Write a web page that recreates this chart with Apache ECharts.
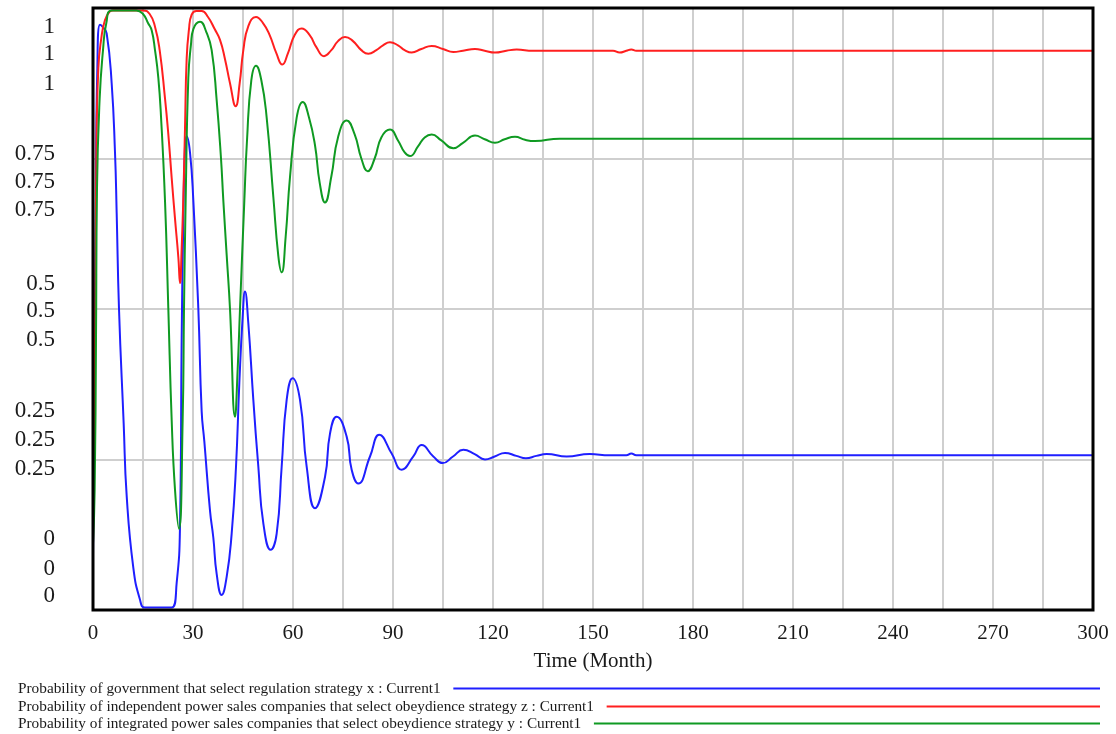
<!DOCTYPE html>
<html>
<head>
<meta charset="utf-8">
<script src="https://cdn.jsdelivr.net/npm/echarts@6/dist/echarts.min.js"></script>
<style>
html,body{margin:0;padding:0;background:#fff;}
#chart{width:1116px;height:734px;}
</style>
</head>
<body>
<div id="chart"></div>
<script>
// ---------------- data ----------------
const seriesNames = [
  'Probability of government that select regulation strategy x : Current1',
  'Probability of independent power sales companies that select obeydience strategy z : Current1',
  'Probability of integrated power sales companies that select obeydience strategy y : Current1'
];

// x : government (blue)
const xTime = [0,0.3,0.8,1.3,2.1,3,4.1,5.6,6.6,7.1,7.8,9.2,10.1,12.1,14.1,15.6,23.6,25.1,26.1,26.6,27.1,27.6,28.1,29.1,30.1,31.6,32.6,33.4,35.1,36.1,37.1,38.6,40.1,41.6,42.9,43.9,44.9,45.6,46.6,48.1,49.6,51.1,53.3,55.1,56.6,58.1,59.9,62.1,64.1,66.6,69.6,71.1,73.1,76.1,77.6,79.6,83.1,85.9,89.6,92.6,96.1,98.6,102.1,104.9,108,111.1,114.5,117.6,120.5,123.6,127,129.9,133,136.1,142.1,149,155,160,161.5,163,300];
const xValue = [0.09,0.3,0.65,0.9,0.972,0.968,0.958,0.875,0.76,0.66,0.5,0.31,0.19,0.07,0.017,0.004,0.004,0.045,0.14,0.45,0.65,0.77,0.787,0.76,0.68,0.5,0.33,0.28,0.165,0.12,0.06,0.025,0.055,0.127,0.238,0.377,0.487,0.529,0.476,0.349,0.238,0.144,0.1,0.127,0.238,0.349,0.385,0.349,0.238,0.169,0.221,0.293,0.321,0.288,0.233,0.21,0.255,0.291,0.26,0.233,0.255,0.274,0.255,0.244,0.255,0.266,0.259,0.25,0.255,0.261,0.256,0.252,0.256,0.259,0.255,0.259,0.257,0.257,0.26,0.257,0.257];

// z : independent companies (red)
const zTime = [0,0.5,1,1.6,2.5,3.6,5,6,15,17,18.6,20,21.6,22.6,23.6,24.6,25.6,26.1,26.6,27.1,27.6,28.1,28.8,29.6,31,32.6,34.5,36.5,38.1,39.6,41.1,42.8,44,45.1,46.6,48.9,51,53,55,56.8,58.5,60.5,62.6,65,67,69.3,71.5,73.5,75.6,78,80.5,82.6,85,87,89.1,91.5,93.5,95.6,98.5,101.6,105,108.1,111,114.6,117.5,120.6,124,127.1,132,140,152,156,158,160,161.5,163,300];
const zValue = [0.11,0.35,0.75,0.9,0.95,0.98,0.994,0.996,0.996,0.99,0.969,0.93,0.85,0.79,0.718,0.65,0.586,0.543,0.6,0.685,0.8,0.916,0.965,0.989,0.995,0.995,0.985,0.965,0.947,0.915,0.875,0.837,0.875,0.93,0.97,0.985,0.975,0.955,0.925,0.906,0.925,0.955,0.966,0.955,0.935,0.92,0.93,0.945,0.952,0.945,0.93,0.924,0.93,0.938,0.943,0.938,0.93,0.926,0.932,0.937,0.932,0.927,0.929,0.932,0.929,0.926,0.929,0.931,0.929,0.929,0.929,0.929,0.926,0.929,0.931,0.929,0.929];

// y : integrated companies (green)
const yTime = [0,0.5,0.9,1.2,2,3,4,5.6,13,15,16.5,17.6,18.6,19.6,20.4,21.6,22.6,23.6,24.6,25.8,26.9,27.3,27.8,28.6,29.4,30.1,32.1,34,35.6,37.1,38.4,39.1,40.1,41.1,42.6,43.4,44.1,45.4,46.2,47.5,48.9,50.5,52.1,54.1,55.6,56.6,57.8,59.1,61.1,62.9,64.8,66.6,68,69.6,71.5,73.5,76.1,78.5,80.5,82.4,84.5,86.5,89.1,91.5,93.5,95.1,97.5,99.5,101.6,104.5,108.1,111,114.6,117.5,120.6,123.5,126.6,129.6,132.6,140,300];
const yValue = [0.11,0.2,0.45,0.7,0.85,0.93,0.975,0.996,0.996,0.99,0.975,0.963,0.93,0.884,0.82,0.68,0.5,0.316,0.2,0.135,0.316,0.5,0.68,0.884,0.94,0.965,0.977,0.96,0.93,0.847,0.75,0.68,0.59,0.5,0.321,0.4,0.5,0.68,0.78,0.88,0.904,0.88,0.818,0.686,0.588,0.561,0.62,0.719,0.818,0.844,0.818,0.772,0.71,0.677,0.72,0.785,0.813,0.79,0.75,0.729,0.75,0.785,0.798,0.78,0.76,0.754,0.77,0.785,0.79,0.78,0.767,0.776,0.788,0.782,0.776,0.782,0.786,0.781,0.779,0.783,0.783];

// tick labels (as printed on the chart)
const yTickValues = [0.969,0.924,0.874,0.758,0.711,0.665,0.542,0.496,0.449,0.330,0.283,0.235,0.118,0.069,0.023];
const yTickLabels = ['1','1','1','0.75','0.75','0.75','0.5','0.5','0.5','0.25','0.25','0.25','0','0','0'];
const xLabelStep = 30;
const xAxisName = 'Time (Month)';

// ---------------- chart ----------------
const FONT = '"Liberation Serif", "Times New Roman", serif';
const colors = ['#1f1fff', '#ff1f1f', '#0f9a22'];
const zip = (t, v) => t.map((tt, i) => [tt, v[i]]);
const seriesData = [zip(xTime, xValue), zip(zTime, zValue), zip(yTime, yValue)];

// legend: text then a long line reaching x=1100
const canvas = document.createElement('canvas');
const ctx = canvas.getContext('2d');
const legendFontSize = 15.3;
ctx.font = legendFontSize + 'px "Liberation Serif"';
const legendLeft = 18, legendRight = 1100;
const legendRows = [681, 699, 716];
const legends = seriesNames.map((n, i) => {
  const label = n + '  ';
  const w = ctx.measureText(label).width;
  return {
    data: [n],
    left: legendLeft,
    top: legendRows[i],
    padding: 0,
    align: 'right',
    icon: 'rect',
    itemHeight: 2,
    itemWidth: Math.max(10, legendRight - legendLeft - w - 5),
    selectedMode: false,
    formatter: (name) => name + '  ',
    textStyle: { fontFamily: FONT, fontSize: legendFontSize, color: '#1a1a1a' }
  };
});

const chart = echarts.init(document.getElementById('chart'), null, { renderer: 'canvas' });
chart.setOption({
  backgroundColor: '#ffffff',
  animation: false,
  grid: {
    left: 93, right: 23, top: 8, bottom: 124,
    show: true, borderColor: '#000', borderWidth: 3, backgroundColor: 'transparent', z: 10
  },
  legend: legends,
  xAxis: {
    type: 'value', min: 0, max: 300, interval: 15,
    name: xAxisName, nameLocation: 'middle', nameGap: 41,
    nameTextStyle: { fontFamily: FONT, fontSize: 21, color: '#1a1a1a' },
    axisLine: { show: false }, axisTick: { show: false },
    axisLabel: {
      margin: 13, fontFamily: FONT, fontSize: 21, color: '#1a1a1a',
      formatter: (v) => (Math.round(v) % xLabelStep === 0 ? String(Math.round(v)) : '')
    },
    splitLine: { show: true, showMinLine: false, showMaxLine: false, lineStyle: { color: '#cfcfcf', width: 2 } }
  },
  yAxis: [
    {
      type: 'value', min: 0, max: 1, interval: 0.25,
      axisLine: { show: false }, axisTick: { show: false }, axisLabel: { show: false },
      splitLine: { show: true, showMinLine: false, showMaxLine: false, lineStyle: { color: '#cfcfcf', width: 2 } }
    },
    {
      type: 'value', min: 0, max: 1, position: 'left',
      axisLine: { show: false }, axisTick: { show: false }, splitLine: { show: false },
      axisLabel: {
        customValues: yTickValues,
        margin: 38, fontFamily: FONT, fontSize: 23, color: '#1a1a1a',
        formatter: (v) => {
          let best = 0, d = Infinity;
          yTickValues.forEach((tv, i) => { const dd = Math.abs(tv - v); if (dd < d) { d = dd; best = i; } });
          return yTickLabels[best];
        }
      }
    }
  ],
  series: seriesNames.map((n, i) => ({
    name: n,
    type: 'line',
    data: seriesData[i],
    yAxisIndex: 0,
    showSymbol: false,
    smooth: 0.5,
    color: colors[i],
    lineStyle: { width: 2, color: colors[i] },
    z: 3 + i
  }))
});
</script>
</body>
</html>
